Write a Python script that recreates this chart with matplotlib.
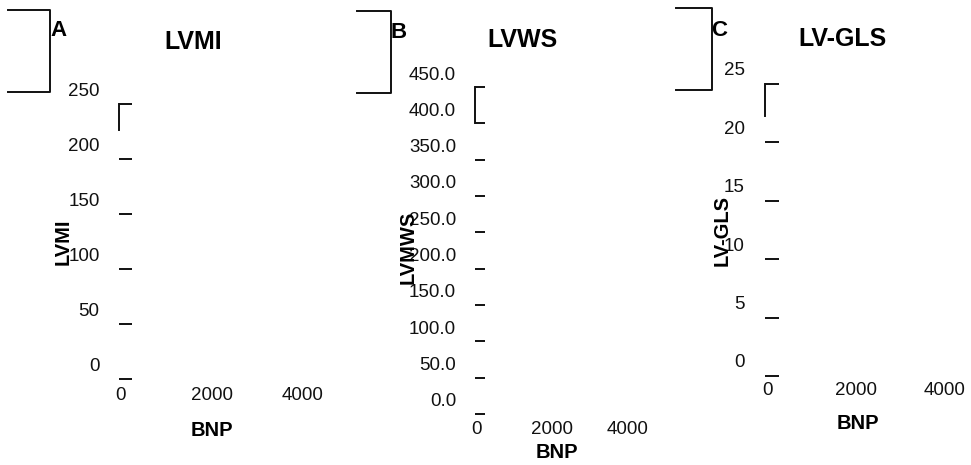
import matplotlib
matplotlib.use("Agg")
import matplotlib.pyplot as plt
from matplotlib.lines import Line2D
from matplotlib.transforms import ScaledTranslation

plt.rcParams['font.family'] = ['Liberation Sans', 'DejaVu Sans']

W, H, DPI = 971, 465, 100

# donnees des trois panneaux
panel_letters = ["A", "B", "C"]
panel_titles = ["LVMI", "LVWS", "LV-GLS"]
y_labels = ["LVMI", "LVMWS", "LV-GLS"]
x_label = "BNP"
x_ticks = [0, 2000, 4000]
y_ticks_A = [0, 50, 100, 150, 200, 250]
y_ticks_B = [0, 50, 100, 150, 200, 250, 300, 350, 400, 450]
y_ticks_C = [0, 5, 10, 15, 20, 25]
y_ticklabels_A = ["0", "50", "100", "150", "200", "250"]
y_ticklabels_B = ["0.0", "50.0", "100.0", "150.0", "200.0", "250.0",
                  "300.0", "350.0", "400.0", "450.0"]
y_ticklabels_C = ["0", "5", "10", "15", "20", "25"]
y_lims = [(-5, 250), (-7, 450), (-0.3, 25)]
x_lim = (-50, 4800)
# partie visible de l'axe vertical (haut de l'axe)
spine_bounds = [(226, 250), (400, 450), (22.3, 25)]

# mise en page en pixels : gauche, haut, largeur, hauteur
boxes = [(118.7, 104, 220.7, 281), (475.1, 87, 183.1, 332), (764.8, 84, 215.8, 295.5)]
tick_len_px = [13, 10, 14]
label_shift_px = [15, 14, 15]
pad_px = [19, 19, 20]
title_pos = [(193, 42), (522, 40), (843, 39)]
letter_pos = [(58, 30), (399, 32), (719, 30)]
ylabel_pos = [(63, 242), (408, 247), (722, 230)]
xlabel_pos = [(212, 430), (557, 452), (858, 423)]
brackets = [(8, 50, 10, 92), (357, 391, 11, 93), (676, 712, 8, 90)]

fig = plt.figure(figsize=(W / DPI, H / DPI), dpi=DPI)


def fx(x):
    return x / W


def fy(y):
    return 1 - y / H


def px2pt(p):
    return p * 72 / DPI


y_ticks = [y_ticks_A, y_ticks_B, y_ticks_C]
y_ticklabels = [y_ticklabels_A, y_ticklabels_B, y_ticklabels_C]

for i in range(3):
    l, t, w, h = boxes[i]
    ax = fig.add_axes([fx(l), fy(t + h), w / W, h / H])
    ax.set_facecolor('none')
    ax.set_xlim(*x_lim)
    ax.set_ylim(*y_lims[i])
    for s in ['top', 'right', 'bottom']:
        ax.spines[s].set_visible(False)
    ax.spines['left'].set_bounds(*spine_bounds[i])
    ax.spines['left'].set_linewidth(1.4)
    ax.spines['left'].set_color('#111111')

    ax.set_xticks(x_ticks)
    ax.set_xticklabels([str(v) for v in x_ticks])
    ax.tick_params(axis='x', length=0, pad=px2pt(2), labelsize=13.5, labelcolor='#111111')

    ax.set_yticks(y_ticks[i])
    ax.set_yticklabels(y_ticklabels[i])
    ax.tick_params(axis='y', direction='in', length=px2pt(tick_len_px[i]), width=1.4,
                   color='#111111', pad=px2pt(pad_px[i]), labelsize=13.5, labelcolor='#111111')
    dy = label_shift_px[i] / DPI
    for lab in ax.get_yticklabels():
        lab.set_transform(lab.get_transform() + ScaledTranslation(0, dy, fig.dpi_scale_trans))

    # textes
    fig.text(fx(title_pos[i][0]), fy(title_pos[i][1]), panel_titles[i], ha='center',
             va='center', fontsize=18, fontweight='bold', color='black')
    fig.text(fx(letter_pos[i][0]), fy(letter_pos[i][1]), panel_letters[i], ha='center',
             va='center', fontsize=16, fontweight='bold', color='black')
    fig.text(fx(ylabel_pos[i][0]), fy(ylabel_pos[i][1]), y_labels[i], ha='center',
             va='center', rotation=90, fontsize=14.5, fontweight='bold', color='black')
    fig.text(fx(xlabel_pos[i][0]), fy(xlabel_pos[i][1]), x_label, ha='center',
             va='center', fontsize=14.5, fontweight='bold', color='black')

    # crochet en haut a gauche
    x0, x1, y0, y1 = brackets[i]
    fig.add_artist(Line2D([fx(x0), fx(x1), fx(x1), fx(x0)], [fy(y0), fy(y0), fy(y1), fy(y1)],
                          transform=fig.transFigure, color='#111111', lw=1.4))

fig.savefig("out.png", dpi=DPI)
